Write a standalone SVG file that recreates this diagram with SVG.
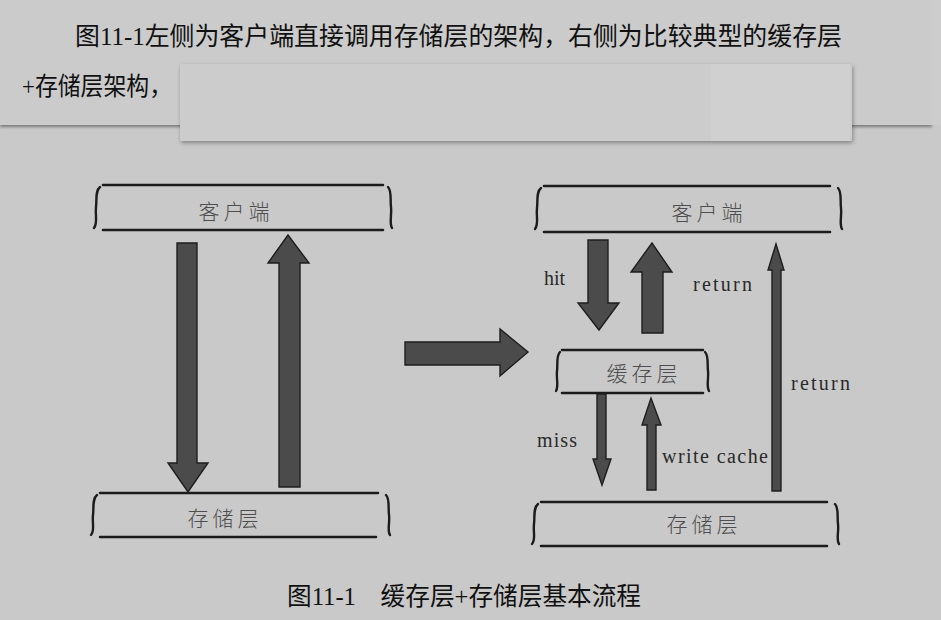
<svg xmlns="http://www.w3.org/2000/svg" width="941" height="620" viewBox="0 0 941 620">
<defs>
<filter id="sh" x="-5%" y="-20%" width="110%" height="150%">
<feGaussianBlur in="SourceAlpha" stdDeviation="2"/>
<feOffset dx="1" dy="2" result="b"/>
<feFlood flood-color="#000" flood-opacity="0.35"/>
<feComposite in2="b" operator="in"/>
<feMerge><feMergeNode/><feMergeNode in="SourceGraphic"/></feMerge>
</filter>
<filter id="sh2" x="-2%" y="-10%" width="104%" height="130%">
<feGaussianBlur in="SourceAlpha" stdDeviation="1.5"/>
<feOffset dx="0" dy="1.5" result="b"/>
<feFlood flood-color="#000" flood-opacity="0.4"/>
<feComposite in2="b" operator="in"/>
<feMerge><feMergeNode/><feMergeNode in="SourceGraphic"/></feMerge>
</filter>
</defs>
<style>
.bar{stroke:#1c1c1c;stroke-width:2.6;fill:none;stroke-linecap:round}
.brace{stroke:#1c1c1c;stroke-width:2.4;fill:none;stroke-linecap:round}
.arr{fill:#4b4b4b;stroke:#1e1e1e;stroke-width:1.4;stroke-linejoin:miter}
.cn{font-family:"Noto Sans CJK SC",sans-serif;font-size:21px;fill:#4e4e4e;text-anchor:middle;font-weight:300;letter-spacing:4px}
.en{font-family:"Liberation Serif",serif;font-size:20px;fill:#2a2a2a}
.hd{font-family:"Liberation Serif","Noto Sans CJK SC",serif;font-size:25px;fill:#111}
</style>
<rect width="941" height="620" fill="#c9c9c9"/>
<!-- header page strip -->
<rect x="0" y="0" width="932" height="125" fill="#cbcbcb" filter="url(#sh2)"/>
<rect x="932" y="0" width="9" height="125" fill="#cdcdcd"/>
<text class="hd" x="75" y="45" textLength="767" lengthAdjust="spacingAndGlyphs">图11-1左侧为客户端直接调用存储层的架构，右侧为比较典型的缓存层</text>
<text class="hd" x="22" y="95" textLength="150" lengthAdjust="spacingAndGlyphs">+存储层架构，</text>
<rect x="180" y="64" width="672" height="77" rx="2" fill="#cccccc" filter="url(#sh)"/>
<rect x="711" y="64" width="139" height="77" fill="#d0d0d0"/>

<!-- left diagram nodes -->
<g id="client-left">
<path class="bar" d="M103,185 H383 M103,230 H383"/>
<path class="brace" d="M100,187 C95,191 97,200 96,207 C95,215 98,223 94,228"/>
<path class="brace" d="M388,187 C392,191 390,200 391,207 C392,215 389,223 392,228"/>
<text class="cn" x="236" y="219">客户端</text>
</g>
<g id="storage-left">
<path class="bar" d="M100,493 H378 M100,537 H376"/>
<path class="brace" d="M97,495 C92,499 94,508 93,515 C92,523 95,531 91,535"/>
<path class="brace" d="M386,495 C390,499 388,508 389,515 C390,523 387,531 390,535"/>
<text class="cn" x="225" y="526">存储层</text>
</g>

<!-- right diagram nodes -->
<g id="client-right">
<path class="bar" d="M544,186 H830 M544,232 H830"/>
<path class="brace" d="M541,188 C536,192 538,201 537,208 C536,216 539,224 535,229"/>
<path class="brace" d="M838,188 C842,192 840,201 841,208 C842,216 839,224 842,229"/>
<text class="cn" x="709" y="220">客户端</text>
</g>
<g id="cache">
<path class="bar" d="M562,350 H703 M562,393 H703"/>
<path class="brace" d="M560,352 C556,356 558,364 557,371 C556,378 559,386 556,391"/>
<path class="brace" d="M705,352 C709,356 707,364 708,371 C709,378 706,386 709,391"/>
<text class="cn" x="644" y="381">缓存层</text>
</g>
<g id="storage-right">
<path class="bar" d="M541,502 H827 M541,546 H827"/>
<path class="brace" d="M538,504 C533,508 535,517 534,524 C533,532 536,540 532,544"/>
<path class="brace" d="M835,504 C839,508 837,517 838,524 C839,532 836,540 839,544"/>
<text class="cn" x="704" y="532">存储层</text>
</g>

<!-- connectors -->
<g id="connectors">
<polygon class="arr" points="177,243 197,243 197,463 208,463 188,492 168,463 177,463"/>
<polygon class="arr" points="279,487 300,487 300,263 309,263 288,235 268,263 279,263"/>
<polygon class="arr" points="405,342 500,342 500,329 528,352 500,376 500,365 405,365"/>
<polygon class="arr" points="588,240 608,240 608,303 619,303 599,330 578,303 588,303"/>
<polygon class="arr" points="642,333 663,333 663,272 672,272 652,243 631,272 642,272"/>
<polygon class="arr" points="597,394 606,394 606,459 611,459 602,485 593,459 597,459"/>
<polygon class="arr" points="647,490 656,490 656,425 661,425 651,398 642,425 647,425"/>
<polygon class="arr" points="772,491 781,491 781,270 784,270 776,244 768,270 772,270"/>
</g>
<text class="en" x="544" y="285">hit</text>
<text class="en" x="693" y="291" textLength="59">return</text>
<text class="en" x="537" y="447" textLength="40">miss</text>
<text class="en" x="662" y="463" textLength="106">write cache</text>
<text class="en" x="791" y="390" textLength="59">return</text>

<text class="hd" x="287" y="605" font-size="23" textLength="354" lengthAdjust="spacingAndGlyphs">图11-1　缓存层+存储层基本流程</text>
</svg>
